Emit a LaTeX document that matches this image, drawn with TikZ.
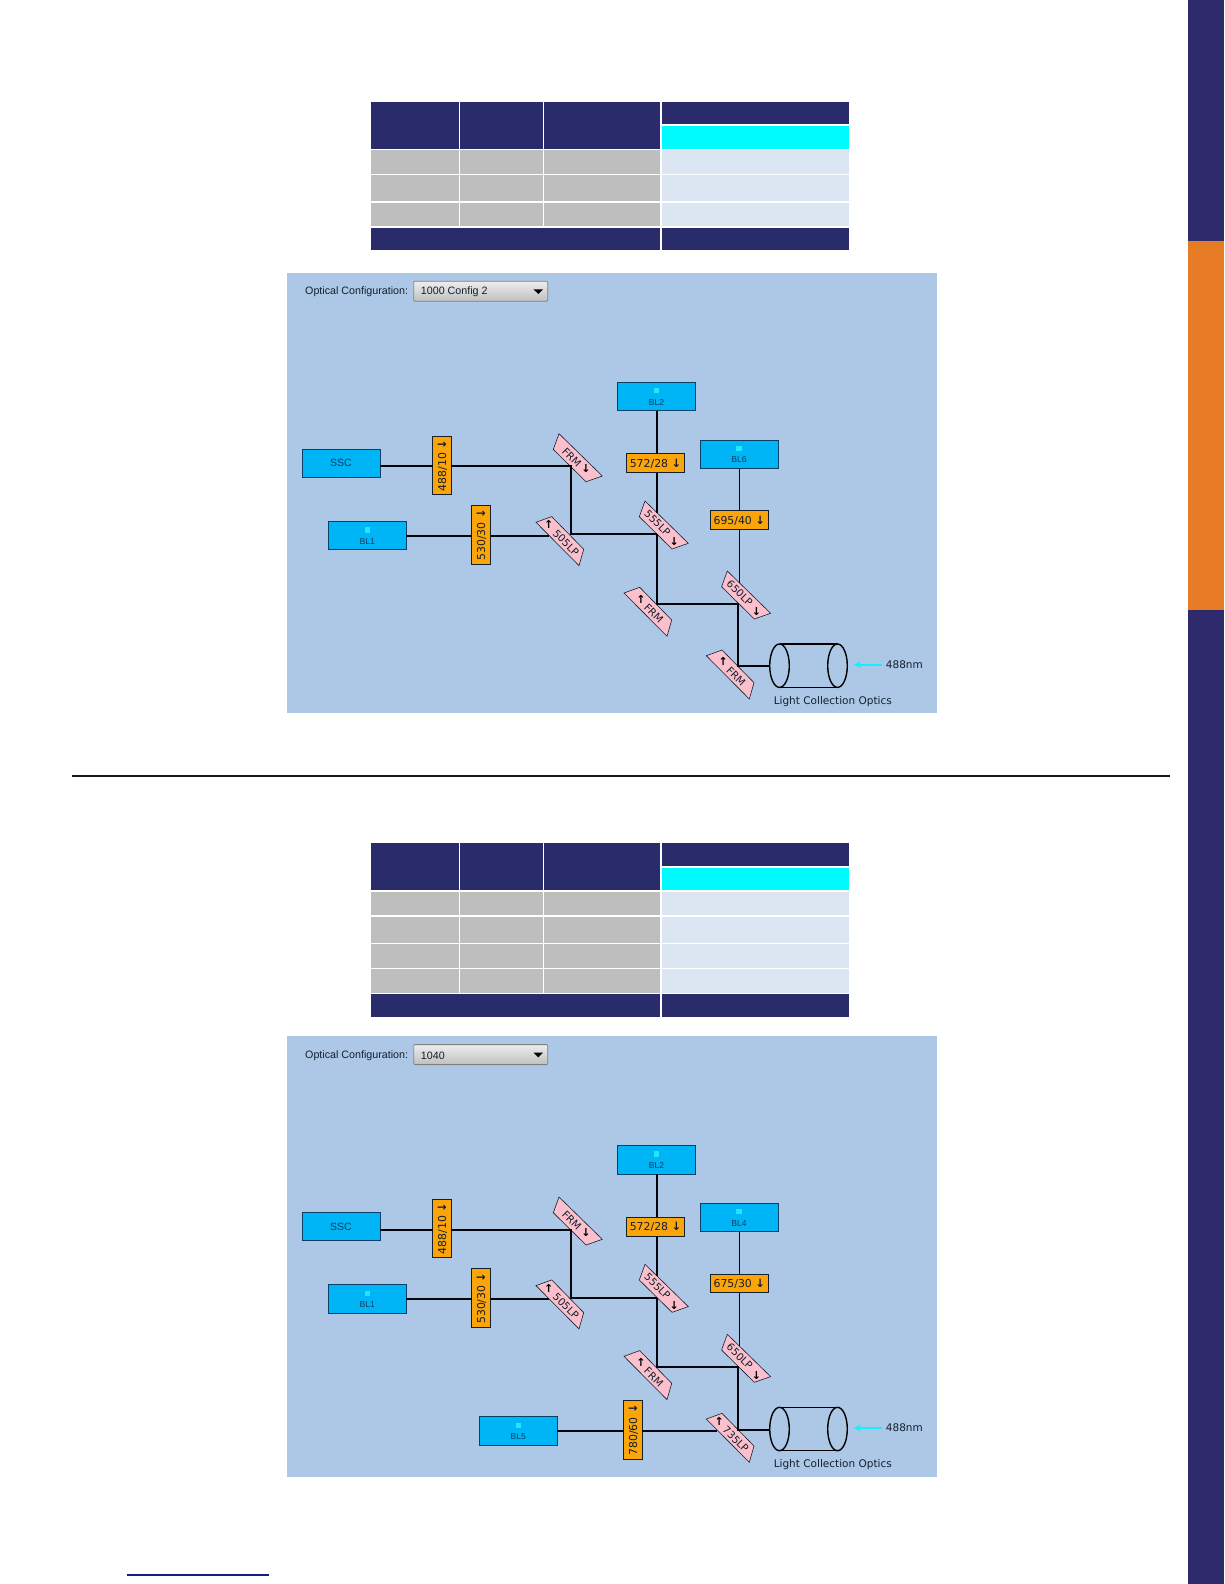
\documentclass[tikz,border=0pt]{standalone}
\usepackage{fontspec}
\setmainfont{Liberation Sans}
\newfontfamily\lucida{DejaVu Sans}
\usetikzlibrary{arrows.meta,calc}
\definecolor{navy}{HTML}{2A2B6A}
\definecolor{sidenavy}{HTML}{2E2A6B}
\definecolor{sideorange}{HTML}{E87B26}
\definecolor{tcyan}{HTML}{00FBFF}
\definecolor{tgray}{HTML}{BEBEBE}
\definecolor{tlight}{HTML}{DBE6F2}
\definecolor{panelblue}{HTML}{ADC8E6}
\definecolor{detblue}{HTML}{00B5F5}
\definecolor{detedge}{HTML}{0B3F66}
\definecolor{filterorange}{HTML}{FBA50A}
\definecolor{mirrorpink}{HTML}{FBC0CC}
\definecolor{inkdark}{HTML}{13202E}
\definecolor{glowcyan}{HTML}{22E6FF}
\definecolor{beamcyan}{HTML}{10F0FF}
\definecolor{footblue}{HTML}{1A1A8C}
\tikzset{
  x=1pt,y=-1pt,
  panelbg/.style={fill=panelblue},
  navycell/.style={fill=navy},
  cyancell/.style={fill=tcyan},
  graycell/.style={fill=tgray},
  lightcell/.style={fill=tlight},
  detector/.style={draw=detedge,line width=1pt,fill=detblue,minimum width=78pt,minimum height=28.5pt,inner sep=0pt,outer sep=0pt},
  detlabel/.style={font=\fontsize{8.6}{9}\selectfont,text=detedge,inner sep=0pt},
  detbig/.style={font=\fontsize{10.5}{11}\selectfont,text=detedge,inner sep=0pt},
  glow/.style={fill=glowcyan},
  filterbox/.style={draw=inkdark,line width=.9pt,fill=filterorange,minimum width=58.4pt,minimum height=18.8pt,inner sep=0pt,outer sep=0pt,
    text height=8pt,text depth=0pt,font=\lucida\fontsize{10.9}{12}\selectfont,text=inkdark},
  mirrorshape/.style={draw=inkdark,line width=.6pt,fill=mirrorpink},
  mirrortext/.style={font=\lucida\fontsize{10.3}{11}\selectfont,text=inkdark,rotate=-45,inner sep=0pt},
  mirrorarrow/.style={font=\lucida\bfseries\fontsize{11}{12}\selectfont,text=black,inner sep=0pt},
  beam/.style={draw=black!90!navy,line width=1.9pt},
  beamthin/.style={draw=black!90!navy,line width=1.6pt},
  cylinder line/.style={draw=black,line width=1.4pt},
  uilabel/.style={font=\fontsize{10.7}{12}\selectfont,text=inkdark,inner sep=0pt},
  uibutton/.style={draw=black!50,line width=.8pt,top color=white!93!black,bottom color=white!75!black,rounded corners=1pt,minimum width=134pt,minimum height=20pt,inner sep=0pt},
  opticslabel/.style={font=\lucida\fontsize{10.5}{12}\selectfont,text=inkdark,inner sep=0pt},
}
\newcommand{\filterarrow}{{\bfseries\fontsize{11.5}{12}\selectfont ↓}}
\newcommand{\mirA}[8]{%
  \begin{scope}[shift={(#2,#3)}]
    \draw[mirrorshape] (0,0) -- (-5.7,15.7) -- (27,48) -- (43.3,42.3) -- cycle;
    \node[mirrortext] (#1) at (#5,#6) {#4};
    \node[mirrorarrow] (#1-arrow) at (#7,#8) {↓};
  \end{scope}}
\newcommand{\mirB}[8]{%
  \begin{scope}[shift={(#2,#3)}]
    \draw[mirrorshape] (0,0) -- (15.7,-5.7) -- (47.7,27) -- (43,43.3) -- cycle;
    \node[mirrortext] (#1) at (#5,#6) {#4};
    \node[mirrorarrow] (#1-arrow) at (#7,#8) {↑};
  \end{scope}}
\newcommand{\detectorbox}[4]{% name x y text
  \node[detector] (#1) at (#2,#3) {};
  \fill[glow] ([xshift=-2.6pt,yshift=3.2pt]#1.center) rectangle ([xshift=2.6pt,yshift=8.4pt]#1.center);
  \node[detlabel] (#1-label) at ([yshift=-5.7pt]#1.center) {#4};}
% #1 prefix  #2 configuration  #3 right detector  #4 right filter
\newcommand{\opticalpanel}[4]{%
  \node[uilabel,anchor=west] (#1-cfg) at (305,292.2) {Optical Configuration:};
  \node[uibutton] (#1-btn) at (480.7,291.3) {};
  \node[uilabel,anchor=west] (#1-cfgval) at (420.7,292.2) {#2};
  \fill[black] (533.6,289.4) -- (543,289.4) -- (538.3,294) -- cycle;
  \mirA{#1-m1}{559}{433.7}{FRM}{12.7}{23.6}{27}{35}
  \mirB{#1-m2}{536}{522.3}{505LP}{30}{20.4}{12.8}{2.4}
  \mirA{#1-m3}{645}{501}{555LP}{12.5}{22.2}{29.2}{41}
  \mirB{#1-m4}{624}{593}{FRM}{29.7}{20.7}{17}{6}
  \mirA{#1-m5}{727.3}{571}{650LP}{12.5}{22.2}{29.2}{41}
  \node[detector,detbig] (#1-ssc) at (341,463.3) {SSC};
  \detectorbox{#1-bl1}{367.3}{535.7}{BL1}
  \detectorbox{#1-bl2}{656.5}{396.5}{BL2}
  \detectorbox{#1-blr}{739}{454.3}{#3}
  \node[filterbox,rotate=90] (#1-f488) at (442,465.3) {488/10 \filterarrow};
  \node[filterbox,rotate=90] (#1-f530) at (481.2,534.8) {530/30 \filterarrow};
  \node[filterbox] (#1-f572) at (655.5,463.3) {572/28 \filterarrow};
  \node[filterbox] (#1-fr) at (739.3,520.2) {#4 \filterarrow};
  \coordinate (#1-j1) at (570.7,466.3);
  \coordinate (#1-j2) at (570.7,534.3);
  \coordinate (#1-j3) at (657,534.3);
  \coordinate (#1-j4) at (657,604);
  \coordinate (#1-j5) at (738.3,604);
  \coordinate (#1-j6) at (738.3,666.3);
  \coordinate (#1-e2) at (549,536);
  \coordinate (#1-e3) at (657,513);
  \coordinate (#1-e5) at (739.3,583);
  \coordinate (#1-cylw) at (769.7,666.3);
  \draw[beam] (#1-ssc.east |- #1-j1) -- (#1-f488.north |- #1-j1);
  \draw[beam] (#1-f488.south |- #1-j1) -- (#1-j1) -- (#1-j2) -- (#1-j3);
  \draw[beam] (#1-bl1.east |- #1-e2) -- (#1-f530.north |- #1-e2);
  \draw[beam] (#1-f530.south |- #1-e2) -- (#1-e2);
  \draw[beam] (#1-bl2.south -| #1-j4) -- (#1-f572.north -| #1-j4);
  \draw[beam] (#1-f572.south -| #1-j4) -- (#1-e3);
  \draw[beam] (#1-j3) -- (#1-j4) -- (#1-j5) -- (#1-j6) -- (#1-cylw);
  \draw[beamthin] (#1-blr.south -| #1-e5) -- (#1-fr.north -| #1-e5);
  \draw[beamthin] (#1-fr.south -| #1-e5) -- (#1-e5);
  % light collection optics
  \draw[cylinder line] (779.5,665.7) ellipse [x radius=9.8,y radius=21.7];
  \draw[cylinder line] (837.5,665.7) ellipse [x radius=9.8,y radius=21.7];
  \draw[cylinder line] (779.5,644) -- (837.5,644) (779.5,687.4) -- (837.5,687.4);
  \node[opticslabel,anchor=west] (#1-l488) at (885.7,664.7) {488nm};
  \coordinate (#1-tip) at (854,664.7);
  \draw[beamcyan,line width=1.8pt,-{Stealth[length=7pt,width=7pt]}] ([xshift=-4pt]#1-l488.west) -- (#1-tip);
  \node[opticslabel] (#1-lco) at (832.8,701.7) {Light Collection Optics};
}
\begin{document}
\begin{tikzpicture}
\useasboundingbox (0,0) rectangle (1224,1584);
\fill[white] (0,0) rectangle (1224,1584);
% side band
\fill[sidenavy] (1188,0) rectangle (1224,240.7);
\fill[sideorange] (1188,240.7) rectangle (1224,610);
\fill[sidenavy] (1188,610) rectangle (1224,1584);
% separator and footer rule
\fill[black!90] (72,775) rectangle (1170,777);
\fill[footblue] (127,1574.4) rectangle (269,1575.6);
% table one
\fill[navycell] (371,102) rectangle (459,148.7);
\fill[navycell] (460,102) rectangle (543,148.7);
\fill[navycell] (544,102) rectangle (660,148.7);
\fill[navycell] (662,102) rectangle (849,124);
\fill[cyancell] (662,126) rectangle (849,148.7);
\foreach \ya/\yb in {150/173.7,175/200.7,203/225.7}{
  \fill[graycell] (371,\ya) rectangle (459,\yb);
  \fill[graycell] (460,\ya) rectangle (543,\yb);
  \fill[graycell] (544,\ya) rectangle (660,\yb);
  \fill[lightcell] (662,\ya) rectangle (849,\yb);
}
\fill[navycell] (371,228) rectangle (660,250);
\fill[navycell] (662,228) rectangle (849,250);
% table two
\fill[navycell] (371,843) rectangle (459,890);
\fill[navycell] (460,843) rectangle (543,890);
\fill[navycell] (544,843) rectangle (660,890);
\fill[navycell] (662,843) rectangle (849,865.7);
\fill[cyancell] (662,867.7) rectangle (849,890);
\foreach \ya/\yb in {892/914.7,917/942.7,944/967.7,969/992.7}{
  \fill[graycell] (371,\ya) rectangle (459,\yb);
  \fill[graycell] (460,\ya) rectangle (543,\yb);
  \fill[graycell] (544,\ya) rectangle (660,\yb);
  \fill[lightcell] (662,\ya) rectangle (849,\yb);
}
\fill[navycell] (371,994) rectangle (660,1016.7);
\fill[navycell] (662,994) rectangle (849,1016.7);
% panel one
\fill[panelbg] (287.3,273.3) rectangle (936.7,712.7);
\begin{scope}
  \mirB{a-m6}{706.3}{655.7}{FRM}{29.7}{20.7}{17}{6}
  \opticalpanel{a}{1000 Config 2}{BL6}{695/40}
\end{scope}
% panel two
\fill[panelbg] (287.3,1036) rectangle (936.7,1476.7);
\begin{scope}[yshift=-763.3pt]
  \mirB{b-m6}{706.3}{655.7}{735LP}{29.5}{20.4}{12.8}{2.4}
  \opticalpanel{b}{1040}{BL4}{675/30}
  \detectorbox{b-bl5}{518.3}{667.7}{BL5}
  \node[filterbox,rotate=90] (b-f780) at (633,666.7) {780/60 \filterarrow};
  \coordinate (b-e6) at (716.5,668);
  \draw[beam] (b-bl5.east |- b-e6) -- (b-f780.north |- b-e6);
  \draw[beam] (b-f780.south |- b-e6) -- (b-e6);
\end{scope}
\end{tikzpicture}
\end{document}
